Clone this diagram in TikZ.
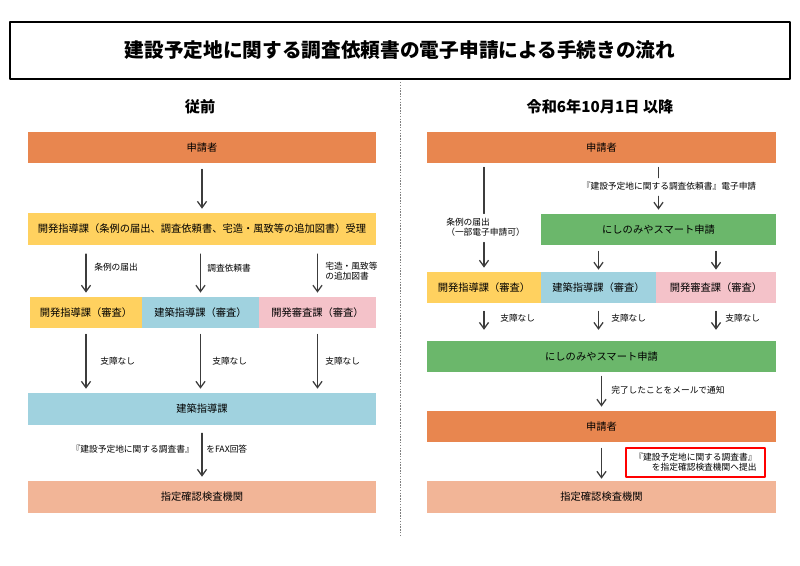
\documentclass[tikz,border=0pt]{standalone}
\usepackage{fontspec}
\setmainfont{Noto Sans CJK JP}
\usetikzlibrary{arrows.meta}
\definecolor{appOrange}{RGB}{232,134,79}
\definecolor{devYellow}{RGB}{255,209,95}
\definecolor{bldBlue}{RGB}{160,210,223}
\definecolor{revPink}{RGB}{244,194,201}
\definecolor{insSalmon}{RGB}{242,181,151}
\definecolor{smartGreen}{RGB}{107,183,107}
\definecolor{arrowGray}{RGB}{60,60,60}
\begin{document}
\begin{tikzpicture}[x=0.025cm, y=-0.025cm, >={Straight Barb[length=4.5pt,width=6.5pt]}, line join=round, line cap=round,
	flowbox/.style={fill=#1, inner sep=0pt, minimum height=0.78cm, font=\fontsize{7.3}{8.6}\selectfont},
	flow/.style={->, draw=arrowGray, line width=0.9pt, shorten <=0.15cm, shorten >=0.1cm},
	flowline/.style={draw=arrowGray, line width=0.9pt, shorten <=0.1cm, shorten >=0.1cm},
	lbl/.style={inner sep=0pt, font=\fontsize{6.2}{7.3}\selectfont},
	head/.style={font=\fontsize{10.8}{13}\selectfont\bfseries}]
		\def\wleft{8.7cm} \def\wright{8.725cm} % box widths
		\useasboundingbox (0,0) rectangle (800,565);
		\node[draw, line width=1.5pt, minimum width=19.5cm, minimum height=1.425cm, font=\fontsize{14}{16}\selectfont\bfseries] (title) at (400,50.5) {建設予定地に関する調査依頼書の電子申請による手続きの流れ};
		\draw[gray, dash pattern=on 1pt off 1pt, line cap=butt] (400,82)--(400,537);
		\node[head] (hOld) at (200,107) {従前};
		\node[head] (hNew) at (600,107) {令和6年10月1日 以降};
	% left column
		\node[flowbox=appOrange, minimum width=\wleft] (lApp) at (202,147.5) {申請者};
		\node[flowbox=devYellow, minimum width=\wleft, minimum height=0.8cm] (lRecv) at (202,229) {開発指導課（条例の届出、調査依頼書、宅造・風致等の追加図書）受理};
		\node[flowbox=devYellow, minimum width=2.8cm] (lDev) at (86,312.5) {開発指導課（審査）};
		\node[flowbox=bldBlue, minimum width=2.925cm] (lBld) at (200.5,312.5) {建築指導課（審査）};
		\node[flowbox=revPink, minimum width=2.925cm] (lRev) at (317.5,312.5) {開発審査課（審査）};
		\node[flowbox=bldBlue, minimum width=\wleft, minimum height=0.8cm] (lBldMain) at (202,409) {建築指導課};
		\node[flowbox=insSalmon, minimum width=\wleft, minimum height=0.8cm] (lIns) at (202,497) {指定確認検査機関};
		\draw[flow] (lApp)--(lRecv);
		\foreach \n in {lDev,lBld,lRev} \draw[flow, shorten <=0.22cm] (lRecv.south -| \n)--(\n);
		\foreach \n in {lDev,lBld,lRev} \draw[flow] (\n)--(lBldMain.north -| \n);
		\draw[flow, shorten <=0.2cm] (lBldMain)--(lIns);
		\node[lbl, anchor=west] (lNote1) at (94,267) {条例の届出};
		\node[lbl, anchor=west] (lNote2) at (207,268) {調査依頼書};
		\node[lbl, anchor=west, align=left] (lNote3) at (325,271) {宅造・風致等\\の追加図書};
		\foreach \x/\i in {100/1,212/2,325/3} \node[lbl, anchor=west] (lOk\i) at (\x,361) {支障なし};
		\node[lbl, anchor=east] (lFaxA) at (194,449) {『建設予定地に関する調査書』};
		\node[lbl, anchor=west] (lFaxB) at (206,449) {をFAX回答};
	% right column
		\node[flowbox=appOrange, minimum width=\wright] (rApp) at (601.5,147.5) {申請者};
		\node[flowbox=smartGreen, minimum width=5.875cm] (rSmart) at (658.5,229.5) {にしのみやスマート申請};
		\node[flowbox=devYellow, minimum width=2.85cm] (rDev) at (484,287.5) {開発指導課（審査）};
		\node[flowbox=bldBlue, minimum width=2.875cm] (rBld) at (598.5,287.5) {建築指導課（審査）};
		\node[flowbox=revPink, minimum width=3cm] (rRev) at (716,287.5) {開発審査課（審査）};
		\node[flowbox=smartGreen, minimum width=\wright] (rSmartB) at (601.5,356.5) {にしのみやスマート申請};
		\node[flowbox=appOrange, minimum width=\wright] (rAppB) at (601.5,426.5) {申請者};
		\node[flowbox=insSalmon, minimum width=\wright, minimum height=0.8cm] (rIns) at (601.5,497) {指定確認検査機関};
		\node[lbl, anchor=west, align=left] (rNote1) at (446,227) {条例の届出\\（一部電子申請可）};
		\node[lbl] (rNote2) at (669,186) {『建設予定地に関する調査依頼書』電子申請};
		\draw[flowline] (rApp.south -| rDev)--(rNote1.north -| rDev);
		\draw[flow] (rNote1.south -| rDev)--(rDev);
		\draw[flowline] (rApp.south -| rSmart)--(rNote2.north -| rSmart);
		\draw[flow] (rNote2.south -| rSmart)--(rSmart);
		\foreach \n in {rBld,rRev} \draw[flow, shorten >=0.05cm] (rSmart.south -| \n)--(\n);
		\foreach \n in {rDev,rBld,rRev} \draw[flow, shorten <=0.2cm, shorten >=0.27cm] (\n)--(rSmartB.north -| \n);
		\draw[flow, shorten <=0.1cm] (rSmartB)--(rAppB);
		\draw[flow, shorten >=0.05cm] (rAppB)--(rIns);
		\foreach \x/\i in {500/1,611/2,725/3} \node[lbl, anchor=west] (rOk\i) at (\x,318) {支障なし};
		\node[lbl, anchor=west] (rMail) at (611,390) {完了したことをメールで通知};
		\node[lbl, draw=red, line width=1.4pt, align=right, minimum width=3.475cm, minimum height=0.725cm] (rSubmit) at (695.5,462.5) {『建設予定地に関する調査書』\\を指定確認検査機関へ提出};
\end{tikzpicture}
\end{document}
